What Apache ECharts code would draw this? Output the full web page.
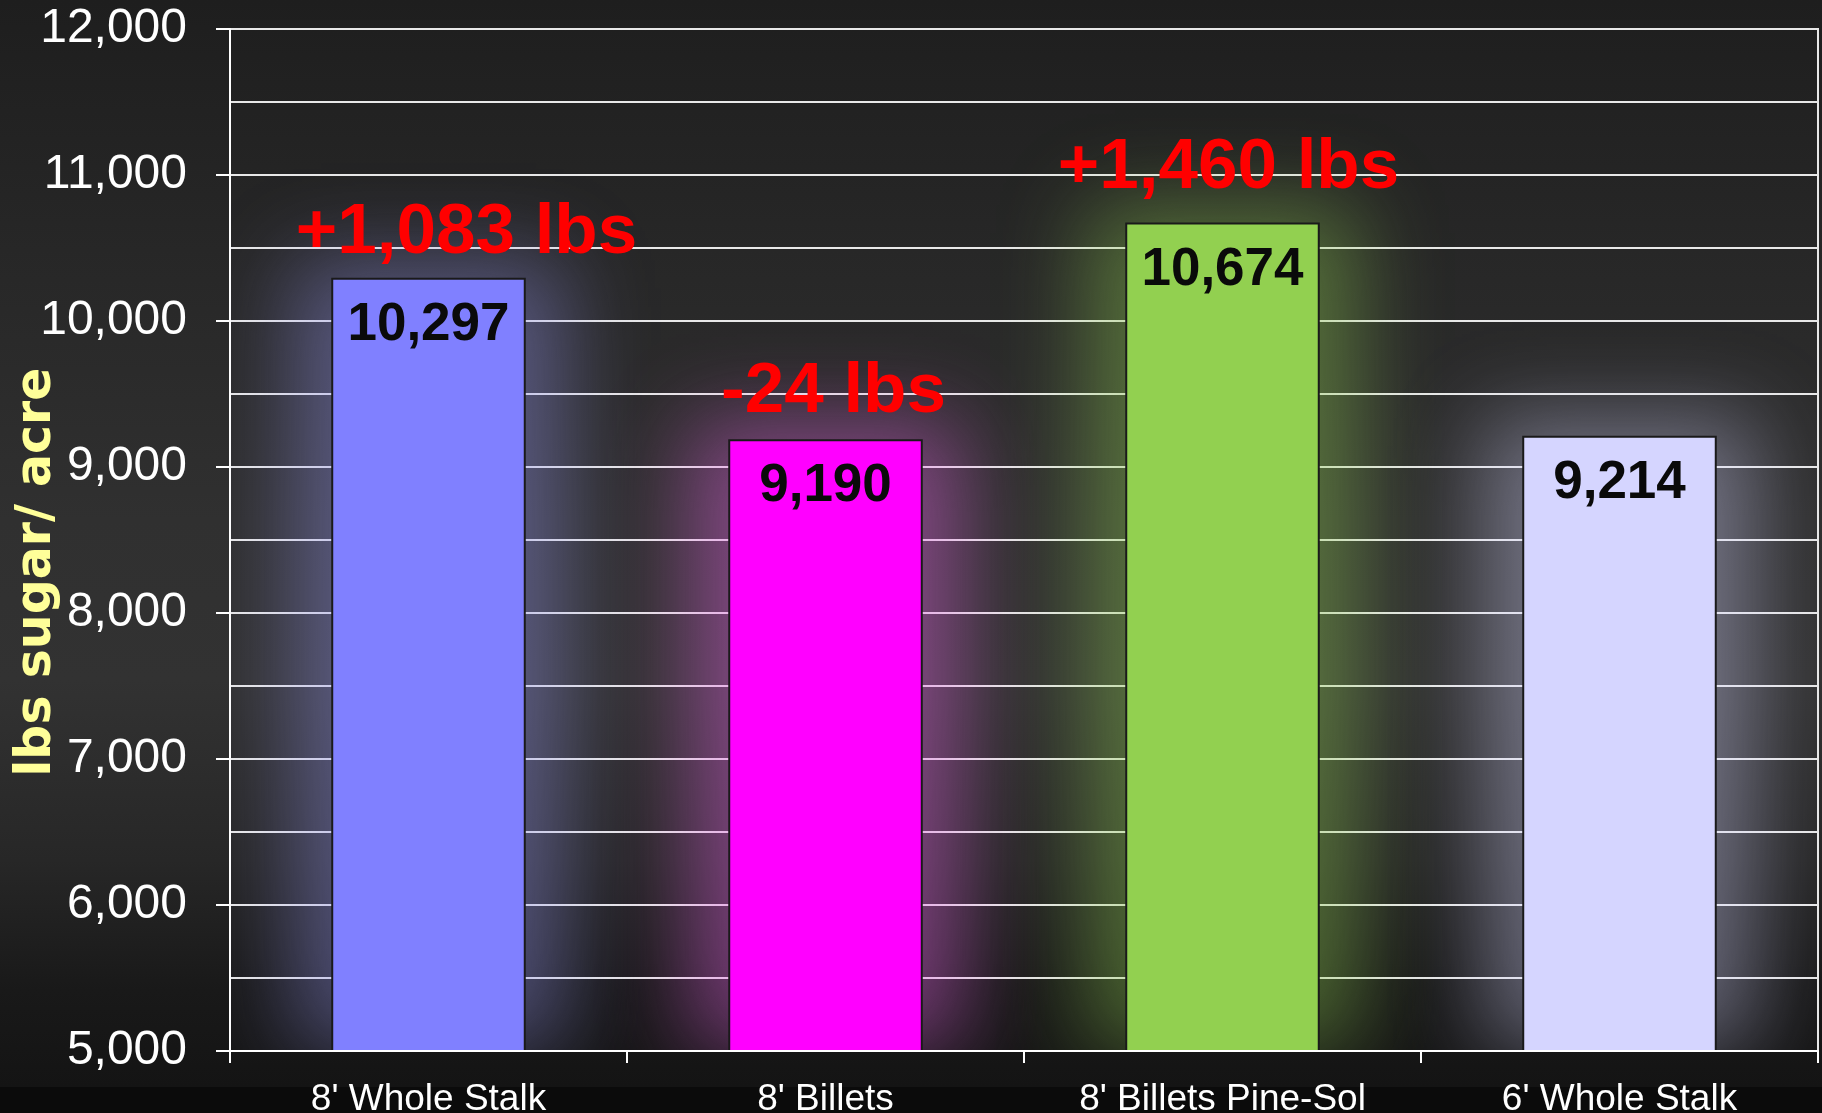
<!DOCTYPE html>
<html><head><meta charset="utf-8">
<script src="https://cdn.jsdelivr.net/npm/echarts@6/dist/echarts.min.js"></script>
<style>
html,body{margin:0;padding:0;width:1822px;height:1113px;overflow:hidden;
background:linear-gradient(to bottom,#1e1e1e 0px,#272727 250px,#303030 520px,#323232 680px,#272727 860px,#191919 990px,#141414 1087px,#0b0b0b 1087px,#0b0b0b 1113px);}
#chart{width:1822px;height:1113px;}
</style></head><body><div id="chart"></div>
<script>
// ---- data ----
const categories = ["8' Whole Stalk", "8' Billets", "8' Billets Pine-Sol", "6' Whole Stalk"];
const sugarValues = [10297, 9190, 10674, 9214];
const diffLabels = ['+1,083 lbs', '-24 lbs', '+1,460 lbs', ''];
const yMin = 5000, yMax = 12000, yInterval = 1000;
const yAxisTitle = 'lbs sugar/ acre';

// ---- styles ----
const barColors = ['#8080FF', '#FF00FF', '#92D050', '#D5D5FF'];
const glowColors = ['rgba(150,150,240,0.42)', 'rgba(230,100,230,0.45)', 'rgba(146,208,80,0.42)', 'rgba(213,213,255,0.40)'];
const diffOffsets = [[38, -44], [8, -47], [6, -54], [0, 0]];
const BAR_RATIO = 0.49;

const chart = echarts.init(document.getElementById('chart'), null, {renderer: 'canvas'});
const fmt = v => Number(v).toLocaleString('en-US');

function renderGlow(params, api) {
  const top = api.coord([api.value(0), api.value(1)]);
  const base = api.coord([api.value(0), yMin]);
  const bw = api.size([1, 0])[0] * BAR_RATIO;
  const extX = 38, extTop = 18, OFF = 6000;
  const col = glowColors[params.dataIndex];
  return {
    type: 'rect',
    shape: {x: top[0] - bw / 2 - extX - OFF, y: top[1] - extTop, width: bw + 2 * extX, height: base[1] - top[1] + extTop},
    style: {fill: '#000000', opacity: 1, shadowColor: col, shadowBlur: 80, shadowOffsetX: OFF, shadowOffsetY: 0}
  };
}

chart.setOption({
  backgroundColor: 'transparent',
  animation: false,
  grid: {left: 230, right: 4, top: 29, bottom: 62, show: true, borderColor: '#e8e8e8', borderWidth: 2,
         backgroundColor: 'transparent', containLabel: false, outerBoundsMode: 'none'},
  xAxis: {
    type: 'category', data: categories, z: 4,
    axisLine: {show: true, lineStyle: {color: '#ffffff', width: 2}},
    axisTick: {show: true, length: 12, lineStyle: {color: '#ffffff', width: 2}},
    axisLabel: {interval: 0, margin: 30, color: '#ffffff', fontFamily: 'Liberation Sans', fontSize: 37},
    splitLine: {show: false}
  },
  yAxis: {
    type: 'value', min: yMin, max: yMax, interval: yInterval,
    axisLine: {show: true, lineStyle: {color: '#ffffff', width: 2}},
    axisTick: {show: true, length: 14, inside: false, lineStyle: {color: '#ffffff', width: 2}},
    minorTick: {show: false, splitNumber: 2},
    axisLabel: {margin: 43, color: '#ffffff', fontFamily: 'Liberation Sans', fontSize: 48, formatter: fmt},
    splitLine: {show: true, lineStyle: {color: '#e8e8e8', width: 2}},
    minorSplitLine: {show: true, lineStyle: {color: '#e8e8e8', width: 2}}
  },
  graphic: [
    {type: 'text', x: 37, y: 572, rotation: Math.PI / 2,
     style: {text: yAxisTitle, fill: '#FFFF99', font: 'bold 49px "DejaVu Sans"', align: 'center', verticalAlign: 'middle'}}
  ],
  series: [
    {
      type: 'custom', clip: true, silent: true,
      data: sugarValues.map((v, i) => [i, v]),
      encode: {x: 0, y: 1},
      renderItem: renderGlow
    },
    {
      type: 'bar', barWidth: (BAR_RATIO * 100) + '%',
      data: sugarValues.map((v, i) => ({
        value: v,
        itemStyle: {color: barColors[i], borderColor: '#1a1a1a', borderWidth: 2}
      })),
      label: {show: true, position: 'insideTop', distance: 21, formatter: p => fmt(p.value),
              color: '#0a0a0a', fontFamily: 'Liberation Sans', fontWeight: 'bold', fontSize: 53}
    },
    {
      type: 'scatter', symbol: 'circle', symbolSize: 1,
      itemStyle: {color: 'rgba(0,0,0,0)', opacity: 1},
      emphasis: {disabled: true},
      data: sugarValues.map((v, i) => ({
        value: v,
        label: {show: diffLabels[i] !== '', formatter: diffLabels[i], offset: diffOffsets[i]}
      })),
      label: {position: 'inside', color: '#FF0000', opacity: 1, fontFamily: 'Liberation Sans', fontWeight: 'bold', fontSize: 71}
    }
  ]
});
</script></body></html>
